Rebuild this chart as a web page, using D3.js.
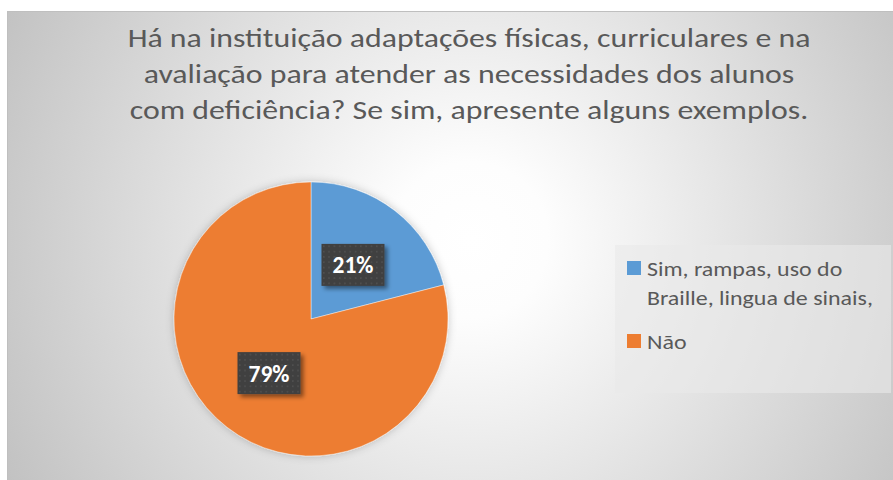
<!DOCTYPE html>
<html lang="pt">
<head>
    <meta charset="UTF-8">
    <title>Adaptações na instituição</title>
    <style>
        html, body {
            margin: 0px;
            padding: 0px;
            background-color: white;
        }
        #vis {
            width: 893px;
            height: 480px;
        }
        text {
            font-family: Carlito, 'Open Sans', Lato, sans-serif;
        }
    </style>
</head>
<body>
    <div id="vis"></div>
    <script src="https://d3js.org/d3.v7.min.js"></script>
    <script>

        // data
        var titleLines = [
            "Há na instituição adaptações físicas, curriculares e na",
            "avaliação para atender as necessidades dos alunos",
            "com deficiência? Se sim, apresente alguns exemplos."
        ];
        var categories = ["Sim, rampas, uso do Braille, lingua de sinais,", "Não"];
        var legendLines = [["Sim, rampas, uso do", "Braille, lingua de sinais,"], ["Não"]];
        var values = [21, 79];
        var colours = ["#5b9bd5", "#ed7d31"];

        var width = 893;
        var height = 480;

        var svg = d3.select("#vis")
            .append("svg")
            .attr("width", width)
            .attr("height", height);

        var defs = svg.append("defs");

        // radial background, white in the middle going grey at the edges
        var grad = defs.append("radialGradient")
            .attr("id", "bg")
            .attr("gradientUnits", "userSpaceOnUse")
            .attr("cx", 470).attr("cy", 240).attr("r", 520);
        grad.append("stop").attr("offset", "0%").attr("stop-color", "#ffffff");
        grad.append("stop").attr("offset", "15%").attr("stop-color", "#fdfdfd");
        grad.append("stop").attr("offset", "100%").attr("stop-color", "#c2c2c2");

        // dotted fill for the data label boxes
        var pat = defs.append("pattern")
            .attr("id", "dots")
            .attr("patternUnits", "userSpaceOnUse")
            .attr("width", 5.3).attr("height", 5.3);
        pat.append("rect").attr("width", 5.3).attr("height", 5.3).attr("fill", "#404040");
        pat.append("circle").attr("cx", 2.6).attr("cy", 2.6).attr("r", 0.9).attr("fill", "#525252");

        var shadow = defs.append("filter")
            .attr("id", "boxShadow")
            .attr("x", "-30%").attr("y", "-30%").attr("width", "170%").attr("height", "170%");
        shadow.append("feDropShadow")
            .attr("dx", 3).attr("dy", 3).attr("stdDeviation", 2)
            .attr("flood-color", "#000").attr("flood-opacity", 0.45);

        var pieShadow = defs.append("filter")
            .attr("id", "pieShadow")
            .attr("x", "-20%").attr("y", "-20%").attr("width", "140%").attr("height", "140%");
        pieShadow.append("feDropShadow")
            .attr("dx", 0).attr("dy", 0).attr("stdDeviation", 4)
            .attr("flood-color", "#000").attr("flood-opacity", 0.22);

        // Calibri in the original is wider than what we have, so stretch text to the measured width
        function fitWidth(textSel, tspanIndex, target, x) {
            var w = textSel.selectAll("tspan").nodes()[tspanIndex].getComputedTextLength();
            var k = target / w;
            textSel.attr("transform", "translate(" + x + ",0) scale(" + k + ",1)");
        }

        // chart area
        svg.append("rect")
            .attr("x", 7.5).attr("y", 11.5)
            .attr("width", width).attr("height", height)
            .attr("fill", "url(#bg)")
            .attr("stroke", "#bfbfbf")
            .attr("stroke-width", 1);

        // title
        var title = svg.append("text")
            .attr("text-anchor", "middle")
            .attr("fill", "#595959")
            .attr("font-size", "26.5px");

        title.selectAll("tspan")
            .data(titleLines)
            .enter()
            .append("tspan")
            .attr("x", 0)
            .attr("y", function(d, i) { return 47 + i * 36; })
            .text(function(d) { return d; });

        fitWidth(title, 0, 683, 469);

        // pie
        var cx = 311, cy = 319, radius = 137;

        var pie = d3.pie().sort(null).value(function(d) { return d; });
        var arcs = pie(values);

        var arc = d3.arc().innerRadius(0).outerRadius(radius);

        var g = svg.append("g")
            .attr("transform", "translate(" + cx + "," + cy + ")");

        g.append("g")
            .attr("filter", "url(#pieShadow)")
            .selectAll("path")
            .data(arcs)
            .enter()
            .append("path")
            .attr("d", arc)
            .attr("fill", function(d, i) { return colours[i]; })
            .attr("stroke", "#ffffff")
            .attr("stroke-opacity", 0.6)
            .attr("stroke-width", 0.7);

        // data labels
        var boxW = 63, boxH = 42;
        var labels = g.selectAll(".label")
            .data(arcs)
            .enter()
            .append("g")
            .attr("class", "label")
            .attr("transform", function(d) {
                var c = arc.centroid(d);
                return "translate(" + c[0] + "," + c[1] + ")";
            });

        labels.append("rect")
            .attr("x", -boxW / 2).attr("y", -boxH / 2)
            .attr("width", boxW).attr("height", boxH)
            .attr("fill", "url(#dots)")
            .attr("filter", "url(#boxShadow)");

        labels.append("text")
            .attr("text-anchor", "middle")
            .attr("dy", "0.36em")
            .attr("fill", "#ffffff")
            .attr("font-weight", "bold")
            .attr("font-size", "23.5px")
            .text(function(d) { return d.data + "%"; });

        // legend
        svg.append("rect")
            .attr("x", 615).attr("y", 245)
            .attr("width", 276).attr("height", 148)
            .attr("fill", "#e9e9e9")
            .attr("fill-opacity", 0.6);

        var legendTop = [261, 334];
        var legend = svg.selectAll(".legend")
            .data(categories)
            .enter()
            .append("g")
            .attr("class", "legend")
            .attr("transform", function(d, i) { return "translate(627," + legendTop[i] + ")"; });

        legend.append("rect")
            .attr("width", 14).attr("height", 14)
            .attr("fill", function(d, i) { return colours[i]; });

        var legendText = legend.append("text")
            .attr("fill", "#595959")
            .attr("font-size", "21px");

        legendText.selectAll("tspan")
            .data(function(d, i) { return legendLines[i]; })
            .enter()
            .append("tspan")
            .attr("x", 0)
            .attr("y", function(d, i) { return 14.5 + i * 30; })
            .text(function(d) { return d; });

        // same horizontal stretch for every legend entry, measured on the longest line
        var lw = legendText.filter(function(d, i) { return i === 0; })
            .selectAll("tspan").nodes()[1].getComputedTextLength();
        legendText.attr("transform", "translate(20,0) scale(" + (226 / lw) + ",1)");

    </script>
</body>
</html>
